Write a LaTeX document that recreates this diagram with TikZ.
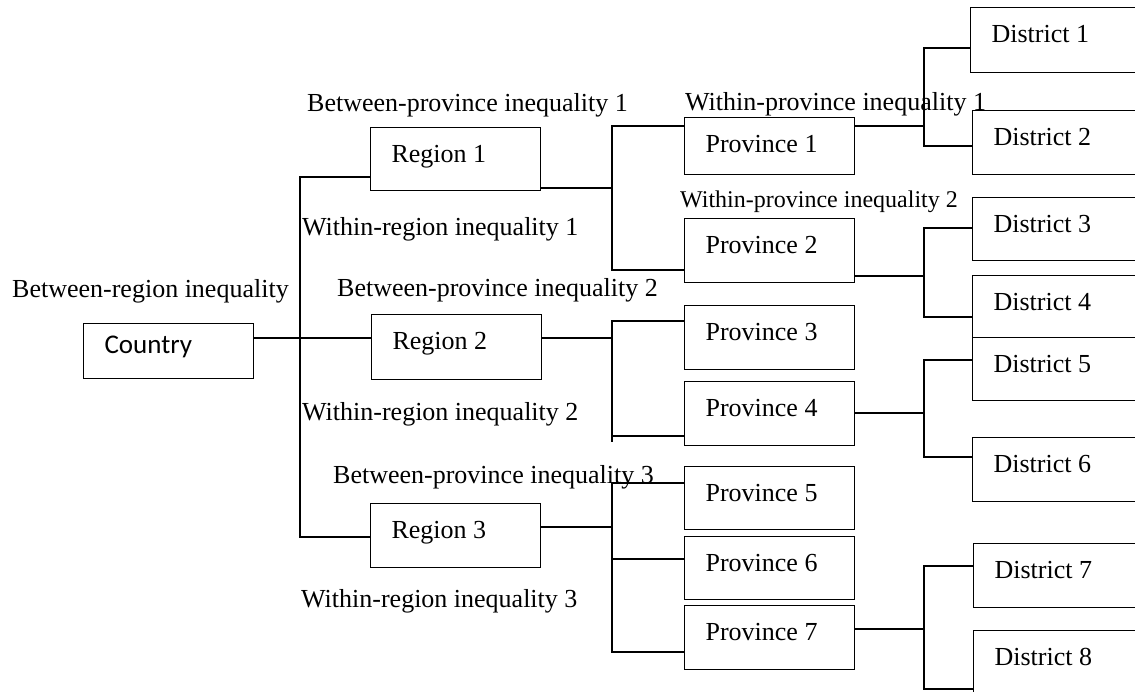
\documentclass[tikz,border=0pt]{standalone}
\usepackage{fontspec}
\setmainfont{Liberation Serif}
\newfontfamily\calib{Carlito}
\newcommand{\bigtext}{\fontsize{26}{30}\selectfont}
\newcommand{\smalltext}{\fontsize{24}{28}\selectfont}
\tikzset{
  wire/.style={line width=1.2pt},
  boxcore/.style={draw, line width=1.2pt, rectangle, anchor=north west,
    inner xsep=21pt, inner ysep=0pt, font=\bigtext, text height=35pt,
    execute at begin node={\hbox to #1\bgroup},
    execute at end node={\hfil\egroup}},
  unitbox/.style={boxcore=128pt},
  distbox/.style={boxcore=158pt},
  note/.style={anchor=base west, inner sep=0pt, font=\bigtext},
}
\begin{document}
\begin{tikzpicture}[x=1pt,y=-1pt]
\useasboundingbox (0,0) rectangle (1135,691);
\clip (0,0) rectangle (1135,691);

% country
\node[unitbox, font=\calib\fontsize{27}{31}\selectfont, text height=30pt, text depth=25pt] (country) at (83,323) {Country};

% regions
\node[unitbox, text depth=28pt] (r1) at (370,127) {Region 1};
\node[unitbox, text depth=30pt] (r2) at (371,314) {Region 2};
\node[unitbox, text depth=29pt] (r3) at (370,503) {Region 3};

% provinces
\node[unitbox, text depth=22pt] (p1) at (684,117) {Province 1};
\node[unitbox, text depth=29pt] (p2) at (684,218) {Province 2};
\node[unitbox, text depth=29pt] (p3) at (684,305) {Province 3};
\node[unitbox, text depth=29pt] (p4) at (684,381) {Province 4};
\node[unitbox, text depth=28pt] (p5) at (684,466) {Province 5};
\node[unitbox, text depth=28pt] (p6) at (684,536) {Province 6};
\node[unitbox, text depth=29pt] (p7) at (684,605) {Province 7};

% districts
\node[distbox, text depth=30pt] (d1) at (970,7) {District 1};
\node[distbox, text depth=29pt] (d2) at (972,110) {District 2};
\node[distbox, text depth=28pt] (d3) at (972,197) {District 3};
\node[distbox, text depth=27pt] (d4) at (972,275) {District 4};
\node[distbox, text depth=28pt] (d5) at (972,337) {District 5};
\node[distbox, text depth=29pt] (d6) at (972,437) {District 6};
\node[distbox, text depth=29pt] (d7) at (973,543) {District 7};
\node[distbox, text depth=35pt] (d8) at (973,630) {District 8};

% junction points of the tree
\coordinate (b0t) at (300,177);
\coordinate (b0m) at (300,338);
\coordinate (b0b) at (300,537);
\coordinate (b1o) at (612,188);
\coordinate (b1t) at (612,126);
\coordinate (b1b) at (612,270);
\coordinate (b2t) at (612,321);
\coordinate (b2m) at (612,338);
\coordinate (b2b) at (612,436);
\coordinate (b2e) at (612,442);
\coordinate (b3t) at (612,483);
\coordinate (b3o) at (612,527);
\coordinate (b3m) at (612,559);
\coordinate (b3b) at (612,652);
\coordinate (c1t) at (924,48);
\coordinate (c1o) at (924,126);
\coordinate (c1b) at (924,146);
\coordinate (c2t) at (924,228);
\coordinate (c2o) at (924,276);
\coordinate (c2b) at (924,317);
\coordinate (c4t) at (924,360);
\coordinate (c4o) at (924,413);
\coordinate (c4b) at (924,457);
\coordinate (c7t) at (924,566);
\coordinate (c7o) at (924,629);
\coordinate (c7b) at (924,689);

% country to regions
\draw[wire] (country.east |- b0m) -- (r2.west |- b0m);
\draw[wire] (r1.west |- b0t) -- (b0t) -- (b0b) -- (r3.west |- b0b);

% regions to provinces
\draw[wire] (r1.east |- b1o) -- (b1o);
\draw[wire] (p1.west |- b1t) -- (b1t) -- (b1b) -- (p2.west |- b1b);
\draw[wire] (r2.east |- b2m) -- (b2m);
\draw[wire] (p3.west |- b2t) -- (b2t) -- (b2e);
\draw[wire] (b2b) -- (p4.west |- b2b);
\draw[wire] (r3.east |- b3o) -- (b3o);
\draw[wire] (p5.west |- b3t) -- (b3t) -- (b3b) -- (p7.west |- b3b);
\draw[wire] (b3m) -- (p6.west |- b3m);

% provinces to districts
\draw[wire] (p1.east |- c1o) -- (c1o);
\draw[wire] (d1.west |- c1t) -- (c1t) -- (c1b) -- (d2.west |- c1b);
\draw[wire] (p2.east |- c2o) -- (c2o);
\draw[wire] (d3.west |- c2t) -- (c2t) -- (c2b) -- (d4.west |- c2b);
\draw[wire] (p4.east |- c4o) -- (c4o);
\draw[wire] (d5.west |- c4t) -- (c4t) -- (c4b) -- (d6.west |- c4b);
\draw[wire] (p7.east |- c7o) -- (c7o);
\draw[wire] (d7.west |- c7t) -- (c7t) -- (c7b) -- (d8.west |- c7b);

% inequality labels
\node[note] (lbr) at (12,297) {Between-region inequality};
\node[note] (lbp1) at (307,111) {Between-province inequality 1};
\node[note] (lwr1) at (302,235) {Within-region inequality 1};
\node[note] (lbp2) at (337,296) {Between-province inequality 2};
\node[note] (lwr2) at (302,420) {Within-region inequality 2};
\node[note] (lbp3) at (333,483) {Between-province inequality 3};
\node[note] (lwr3) at (301,607) {Within-region inequality 3};
\node[note] (lwp1) at (685,110) {Within-province inequality 1};
\node[note, font=\smalltext] (lwp2) at (680,207) {Within-province inequality 2};
\end{tikzpicture}
\end{document}
